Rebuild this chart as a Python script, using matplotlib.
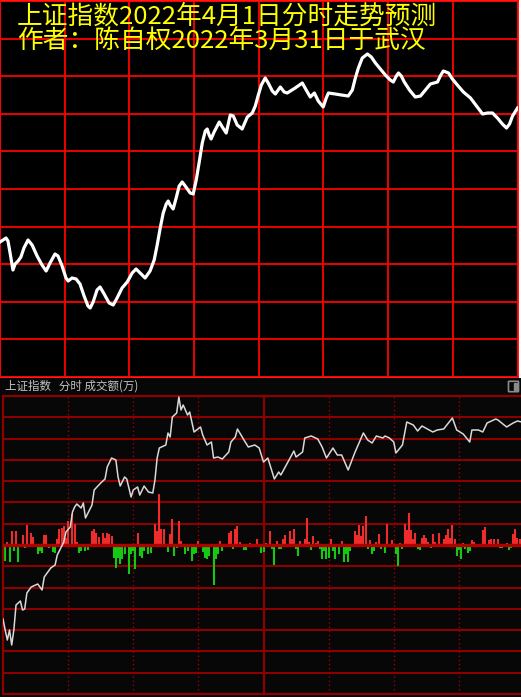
import numpy as np
import matplotlib
matplotlib.use('Agg')
import matplotlib.pyplot as plt
from matplotlib.patches import FancyBboxPatch, Rectangle

plt.rcParams['font.family'] = ['Noto Sans CJK SC', 'DejaVu Sans']

# ---- data: predicted curve (top) ----
pred_t = [0, 1.4, 2.8, 3.7, 4.6, 6.0, 7.0, 8.4, 9.7, 11.1, 13.0, 14.9, 17.2, 19.5, 21.4, 23.2,
          25.5, 26.9, 28.8, 30.6, 31.6, 33.4, 35.3, 37.1, 39.0, 40.8, 41.8, 43.2, 45.0, 46.4,
          48.3, 50.6, 52.5, 54.3, 56.6, 59.0, 61.3, 63.1, 65.0, 67.3, 69.6, 71.5, 72.9, 74.3,
          75.7, 77.1, 78.0, 78.9, 80.3, 81.7, 83.1, 84.5, 85.9, 88.2, 89.6, 91.0, 92.4, 93.8,
          95.2, 96.1, 97.0, 97.9, 99.3, 101.7, 103.1, 104.9, 106.8, 108.2, 110.0, 112.3, 113.7,
          114.7, 117.0, 118.4, 119.8, 121.2, 123.0, 124.4, 126.3, 127.7, 130.0, 131.8, 133.2,
          136.9, 140.2, 142.0, 143.9, 145.8, 147.6, 149.9, 151.3, 152.3, 155.5, 158.3, 161.5,
          163.4, 164.8, 166.2, 168.0, 170.4, 172.2, 174.1, 176.4, 178.7, 181.0, 182.4, 183.8,
          184.8, 186.1, 187.5, 189.9, 192.6, 195.0, 197.3, 199.6, 202.9, 204.2, 205.6, 208.0,
          209.8, 212.1, 214.9, 218.2, 221.0, 223.8, 226.1, 228.4, 230.7, 233.0, 234.9, 236.3,
          237.7, 240.0]
pred_p = [3236.1, 3236.7, 3237.3, 3236.4, 3233.1, 3227.7, 3229.5, 3230.4, 3231.6, 3234.3, 3236.7,
          3235.2, 3231.9, 3229.2, 3227.4, 3229.8, 3232.5, 3231.9, 3228.9, 3225.3, 3224.4, 3225.3,
          3225.0, 3223.5, 3219.9, 3216.9, 3216.3, 3218.1, 3221.7, 3222.6, 3220.5, 3217.8, 3217.2,
          3219.3, 3222.3, 3224.1, 3226.8, 3228.0, 3226.8, 3225.3, 3227.4, 3230.7, 3235.2, 3240.3,
          3244.8, 3247.5, 3248.4, 3247.2, 3246.0, 3249.3, 3252.9, 3254.1, 3252.9, 3250.8, 3250.5,
          3254.7, 3260.1, 3265.8, 3269.4, 3270.0, 3268.2, 3267.0, 3269.1, 3272.1, 3270.6, 3268.8,
          3274.2, 3273.9, 3271.2, 3270.0, 3272.1, 3273.6, 3274.8, 3276.9, 3280.2, 3283.2, 3285.3,
          3283.8, 3281.4, 3280.5, 3282.6, 3281.1, 3280.8, 3282.3, 3283.8, 3281.7, 3279.6, 3280.8,
          3278.4, 3276.6, 3279.3, 3280.8, 3280.5, 3280.2, 3279.9, 3281.7, 3285.3, 3288.3, 3291.3,
          3292.5, 3291.6, 3289.8, 3288.0, 3286.2, 3284.7, 3284.1, 3285.9, 3286.8, 3285.9, 3284.1,
          3281.7, 3279.6, 3279.9, 3281.7, 3283.5, 3284.1, 3285.9, 3287.4, 3286.8, 3285.0, 3283.2,
          3281.1, 3279.3, 3276.9, 3274.5, 3274.8, 3274.8, 3273.3, 3271.5, 3270.3, 3271.5, 3273.9,
          3276.3]

# ---- data: actual intraday (bottom) ----
act_t = [0, 1, 2, 3, 4, 5, 6, 7, 8, 9, 10, 11, 13, 16, 18, 19, 22, 24, 25, 28, 29, 31, 32, 33, 34,
         36, 37, 38, 41, 42, 45, 47, 48, 50, 52, 53, 54, 56, 57, 59, 60, 62, 63, 65, 67, 69, 70,
         71, 72, 75, 76, 77, 78, 80, 81, 82, 83, 85, 86, 88, 91, 92, 94, 96, 97, 99, 101, 104,
         105, 107, 108, 111, 113, 116, 118, 120, 122, 125, 127, 128, 131, 134, 135, 138, 139,
         142, 145, 147, 149, 152, 154, 156, 159, 162, 166, 168, 170, 172, 175, 176, 178, 180,
         181, 184, 186, 189, 191, 193, 198, 200, 203, 207, 209, 212, 215, 216, 219, 221, 223,
         227, 228, 232, 235, 237, 239]
act_p = [3229.8, 3226.5, 3223.5, 3226.5, 3222.0, 3226.5, 3234.0, 3234.6, 3235.2, 3232.5, 3232.8,
         3237.6, 3239.4, 3240.3, 3238.5, 3242.4, 3245.1, 3246.0, 3249.0, 3252.9, 3255.9, 3257.4,
         3261.9, 3263.4, 3264.3, 3263.1, 3264.6, 3260.1, 3264.0, 3268.5, 3270.6, 3271.8, 3275.4,
         3278.1, 3277.5, 3272.4, 3269.7, 3272.4, 3271.8, 3266.4, 3268.5, 3269.4, 3267.0, 3269.7,
         3267.9, 3267.6, 3271.5, 3278.1, 3281.1, 3282.0, 3285.6, 3284.4, 3290.4, 3291.6, 3296.4,
         3292.5, 3294.0, 3291.0, 3291.9, 3285.9, 3287.4, 3285.0, 3282.0, 3282.9, 3278.1, 3278.4,
         3277.8, 3279.9, 3282.9, 3284.4, 3286.8, 3283.5, 3281.4, 3282.0, 3281.1, 3276.9, 3278.1,
         3271.8, 3273.9, 3273.0, 3276.6, 3280.2, 3278.4, 3279.9, 3284.1, 3284.7, 3283.8, 3281.4,
         3278.1, 3281.1, 3279.0, 3279.0, 3274.5, 3279.6, 3285.6, 3283.5, 3282.6, 3284.7, 3284.1,
         3284.7, 3284.1, 3282.9, 3279.6, 3282.0, 3288.9, 3288.0, 3286.2, 3287.7, 3285.9, 3286.5,
         3286.8, 3290.1, 3286.5, 3285.3, 3282.9, 3286.5, 3286.5, 3285.9, 3288.6, 3289.8, 3289.5,
         3287.4, 3288.6, 3289.2, 3288.9]
prev_close = 3252.0

# 成交额 bars (万), red = up, green = down
red_t = [2, 4, 6, 9, 11, 13, 14, 19, 20, 25, 26, 27, 28, 29, 30, 32, 33, 34, 41, 42, 43, 44, 46,
         47, 48, 49, 50, 62, 70, 71, 72, 73, 74, 77, 78, 81, 82, 90, 100, 104, 105, 107, 108, 109,
         114, 117, 121, 123, 126, 129, 130, 132, 133, 134, 137, 139, 140, 141, 143, 144, 145, 151,
         156, 162, 163, 164, 165, 166, 167, 169, 172, 173, 177, 179, 183, 185, 186, 187, 188, 189,
         190, 193, 194, 195, 196, 198, 199, 201, 203, 204, 205, 206, 207, 208, 212, 216, 217, 221,
         222, 224, 225, 226, 228, 232, 235, 236, 237, 238]
red_v = [300, 1400, 1400, 1000, 2000, 1200, 800, 1000, 1000, 600, 1600, 1700, 1900, 700, 2400,
         3100, 2100, 300, 1400, 1600, 1200, 800, 1200, 700, 1200, 1100, 900, 1200, 2100, 1400, 5100,
         1600, 1600, 1100, 2600, 2400, 400, 400, 400, 1200, 1400, 1600, 1900, 300, 200, 600, 200,
         1400, 400, 600, 1000, 1400, 600, 1600, 400, 600, 2700, 300, 900, 200, 400, 600, 400, 1400,
         1000, 2000, 900, 1900, 2900, 500, 300, 1100, 2100, 500, 200, 2100, 1500, 3200, 1500, 600,
         1200, 700, 1000, 700, 300, 1100, 300, 1200, 600, 1000, 1600, 700, 2000, 600, 200, 500, 300,
         1500, 1800, 500, 600, 600, 600, 200, 1100, 1600, 700, 600]
green_t = [1, 3, 5, 7, 10, 16, 17, 18, 21, 23, 24, 35, 36, 38, 39, 51, 52, 53, 54, 55, 56, 58, 59,
           60, 61, 63, 64, 65, 67, 68, 76, 79, 80, 84, 85, 87, 88, 89, 92, 93, 94, 95, 97, 98, 99,
           101, 106, 111, 112, 119, 120, 124, 125, 127, 128, 135, 136, 142, 146, 147, 148, 149,
           150, 152, 153, 155, 157, 158, 159, 160, 168, 170, 171, 174, 176, 181, 182, 184, 191,
           192, 197, 209, 210, 211, 213, 214, 215, 229, 230, 233, 234]
green_v = [1600, 1700, 600, 1700, 300, 900, 600, 800, 300, 700, 800, 800, 600, 600, 500, 1300,
           2300, 1300, 1900, 1400, 900, 2900, 900, 600, 2400, 1100, 1300, 600, 900, 800, 700, 1100,
           300, 900, 600, 1600, 900, 800, 700, 1300, 1400, 1100, 4000, 1400, 900, 600, 400, 500,
           500, 800, 700, 400, 2000, 400, 400, 400, 1100, 500, 400, 1400, 600, 1400, 1300, 600,
           1400, 900, 1700, 900, 1700, 600, 400, 900, 600, 400, 800, 900, 2100, 400, 400, 500, 300,
           1100, 500, 1400, 400, 800, 600, 300, 300, 500, 300]

title1 = '上证指数2022年4月1日分时走势预测'
title2 = '作者：陈自权2022年3月31日于武汉'
header = '上证指数   分时 成交额(万)'

W, H = 521, 697
fig = plt.figure(figsize=(W / 100, H / 100), dpi=100, facecolor='white')


def box(x0, y0, x1, y1):
    # pixel box (top-left origin) -> figure rect
    return [x0 / W, 1 - y1 / H, (x1 - x0) / W, (y1 - y0) / H]


# ---------- top: prediction ----------
ax1 = fig.add_axes(box(0, 1, 517.5, 377))
ax1.set_facecolor('black')
ax1.set_xlim(0, 240)
ax1.set_ylim(3195.6, 3308.4)
for x in np.arange(0, 241, 30):
    ax1.axvline(x, color='#ff0000', lw=1.3, zorder=1)
for y in np.linspace(3195.6, 3308.4, 11):
    ax1.axhline(y, color='#ff0000', lw=1.3, zorder=1)
for s in ax1.spines.values():
    s.set_color('#ff0000')
    s.set_linewidth(1.3)
ax1.set_xticks([])
ax1.set_yticks([])
ax1.plot(pred_t, pred_p, color='white', lw=2.3, solid_joinstyle='round', zorder=3)

fig.text(17 / W, 1 - 24 / H, title1, color='#ffff00', fontsize=18.5, va='baseline')
fig.text(17 / W, 1 - 48 / H, title2, color='#ffff00', fontsize=18.5, va='baseline')

# ---------- bottom: actual ----------
bg = fig.add_axes(box(0, 378, 521, 697))
bg.set_facecolor('#070707')
bg.set_xticks([])
bg.set_yticks([])
for s in bg.spines.values():
    s.set_visible(False)
fig.text(5 / W, 1 - 386 / H, header, color='#c4c4c4', fontsize=8.3, va='center')
fig.patches.append(FancyBboxPatch((509 / W, 1 - 391 / H), 9 / W, 9 / H,
                                  boxstyle='round,pad=0.001', transform=fig.transFigure,
                                  fill=False, ec='#8a8a8a', lw=1.2, zorder=5))
fig.patches.append(Rectangle((514 / W, 1 - 390 / H), 3 / W, 7 / H, transform=fig.transFigure,
                             color='#8a8a8a', zorder=5))

ax2 = fig.add_axes(box(3, 396, 521, 694))
ax2.set_facecolor('#070707')
ax2.set_xlim(0, 240 * 518 / 521)
ax2.set_ylim(-14900, 14900)
for y in np.linspace(-14900, 14900, 15):
    ax2.axhline(y, color='#8c0000', lw=1.5, zorder=1)
for x in [30, 60, 90, 150, 180, 210]:
    ax2.axvline(x, color='#a00000', lw=1, ls=(0, (1, 2)), zorder=1)
ax2.axvline(120, color='#8c0000', lw=1.6, zorder=1)
for k, s in ax2.spines.items():
    s.set_color('#8c0000')
    s.set_linewidth(1.6)
ax2.spines['right'].set_visible(False)
ax2.set_xticks([])
ax2.set_yticks([])
ax2.vlines(red_t, 0, red_v, colors='#ee2c2c', lw=1.5, zorder=2)
ax2.vlines(green_t, [-v for v in green_v], 0, colors='#14c814', lw=1.5, zorder=2)
ax2.axhline(0, color='#b00000', lw=2.4, zorder=3)

axp = ax2.twinx()
axp.set_ylim(prev_close - 44.7, prev_close + 44.7)
axp.set_yticks([])
for s in axp.spines.values():
    s.set_visible(False)
axp.plot(act_t, act_p, color='#d8d8d8', lw=1.1)

fig.savefig('out.png', dpi=100, facecolor=fig.get_facecolor())
